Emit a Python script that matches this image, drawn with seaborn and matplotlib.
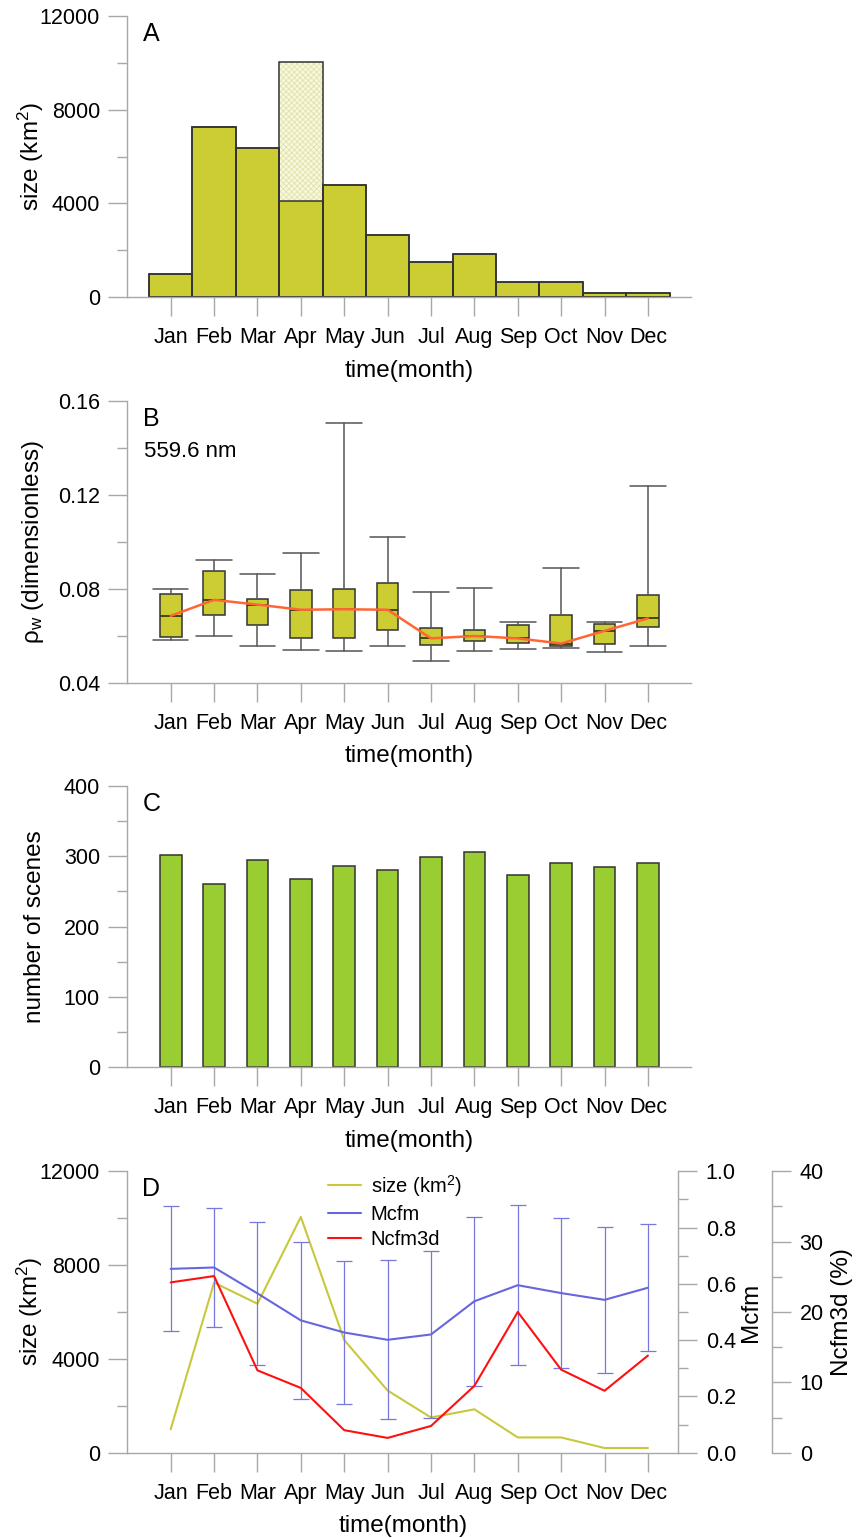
import numpy as np
import pandas as pd
import matplotlib
matplotlib.use("Agg")
import matplotlib.pyplot as plt
import seaborn as sns
from matplotlib.ticker import MultipleLocator

# ---------------- data ----------------
months = ["Jan", "Feb", "Mar", "Apr", "May", "Jun", "Jul", "Aug", "Sep", "Oct", "Nov", "Dec"]
month_num = [1, 2, 3, 4, 5, 6, 7, 8, 9, 10, 11, 12]

# Panel A: size (km2); Apr has an additional (hatched) part
size_km2 = [1000, 7250, 6350, 4100, 4800, 2650, 1500, 1850, 650, 650, 200, 200]
size_total_km2 = [1000, 7250, 6350, 10050, 4800, 2650, 1500, 1850, 650, 650, 200, 200]

# Panel B: rho_w at 559.6 nm, box statistics
rho_whislo = [0.0582, 0.0597, 0.0557, 0.0540, 0.0536, 0.0557, 0.0492, 0.0535, 0.0543, 0.0548, 0.0530, 0.0557]
rho_q1 = [0.0594, 0.0688, 0.0648, 0.0590, 0.0591, 0.0623, 0.0559, 0.0579, 0.0569, 0.0555, 0.0563, 0.0637]
rho_med = [0.0685, 0.0753, 0.0733, 0.0711, 0.0713, 0.0711, 0.0589, 0.0599, 0.0589, 0.0567, 0.0621, 0.0674]
rho_q3 = [0.0776, 0.0875, 0.0756, 0.0797, 0.0799, 0.0827, 0.0635, 0.0626, 0.0648, 0.0689, 0.0652, 0.0773]
rho_whishi = [0.0800, 0.0923, 0.0862, 0.0953, 0.1509, 0.1020, 0.0786, 0.0804, 0.0660, 0.0889, 0.0660, 0.1240]

# Panel C: number of scenes
n_scenes = [302, 260, 294, 267, 286, 280, 299, 306, 273, 291, 284, 291]

# Panel D
mcfm_mean = [0.653, 0.658, 0.566, 0.470, 0.427, 0.401, 0.420, 0.538, 0.595, 0.567, 0.543, 0.586]
mcfm_std = [0.222, 0.210, 0.253, 0.280, 0.253, 0.283, 0.298, 0.300, 0.284, 0.267, 0.260, 0.225]
ncfm3d_pct = [24.2, 25.1, 11.7, 9.2, 3.2, 2.1, 3.8, 9.5, 20.0, 11.8, 8.8, 13.8]

# ---------------- style ----------------
sns.set_style("white")
plt.rcParams["font.family"] = ["Liberation Sans", "DejaVu Sans"]
plt.rcParams["mathtext.fontset"] = "custom"
plt.rcParams["mathtext.rm"] = "Liberation Sans"
plt.rcParams["mathtext.it"] = "Liberation Sans:italic"
plt.rcParams["hatch.linewidth"] = 0.6
plt.rcParams["text.color"] = "black"
plt.rcParams["axes.labelcolor"] = "black"
plt.rcParams["xtick.color"] = "black"
plt.rcParams["ytick.color"] = "black"

GRAY = "#A8A8A8"
EDGE = "#333333"
TICK_FS = 15.5
LABEL_FS = 17.5
OLIVE = "#CCCC33"

W, H = 859, 1538
fig = plt.figure(figsize=(W / 100, H / 100), dpi=100)
fig.patch.set_facecolor("white")

left = 127.3 / W
wide = 564.0 / W
wide_d = 551.0 / W
ah = 281.5 / H


def add_ax(ybottom_px, width):
    return fig.add_axes([left, 1 - ybottom_px / H, width, ah])


def style(ax, xmax=13.0):
    ax.set_facecolor("none")
    for s in ["top", "right"]:
        ax.spines[s].set_visible(False)
    for s in ["left", "bottom"]:
        ax.spines[s].set_color(GRAY)
        ax.spines[s].set_linewidth(1.0)
    ax.set_xlim(0, xmax)
    ax.set_xticks(month_num)
    ax.set_xticklabels(months)
    ax.tick_params(axis="x", which="major", length=13.7, width=1.0, color=GRAY,
                   pad=8, labelsize=TICK_FS, labelcolor="black", bottom=True)
    ax.tick_params(axis="y", which="major", length=13.7, width=1.0, color=GRAY,
                   pad=6, labelsize=TICK_FS, labelcolor="black", left=True)
    ax.tick_params(axis="y", which="minor", length=7.2, width=1.0, color=GRAY, left=True)
    ax.set_xlabel("time(month)", fontsize=LABEL_FS)
    ax.xaxis.set_label_coords(0.5, -0.222)
    ax.grid(False)


def letter(ax, s):
    ax.text(0.027, 0.978, s, transform=ax.transAxes, fontsize=18, ha="left", va="top")


# ---------------- Panel A ----------------
axA = add_ax(297.3, wide)
dfA = pd.DataFrame({"month": month_num, "size": size_km2, "total": size_total_km2})
sns.barplot(data=dfA, x="month", y="total", native_scale=True, width=1.0, saturation=1,
            color="#F8F8DC", edgecolor="#E2E2AE", linewidth=0, hatch="xxxxxx",
            errorbar=None, ax=axA)
sns.barplot(data=dfA, x="month", y="size", native_scale=True, width=1.0, saturation=1,
            color=OLIVE, edgecolor=EDGE, linewidth=1.1, errorbar=None, ax=axA)
sns.barplot(data=dfA, x="month", y="total", native_scale=True, width=1.0, saturation=1,
            fill=False, color=EDGE, linewidth=1.1, errorbar=None, ax=axA)
style(axA)
axA.set_ylim(0, 12000)
axA.yaxis.set_major_locator(MultipleLocator(4000))
axA.yaxis.set_minor_locator(MultipleLocator(2000))
axA.set_ylabel("size (km$^2$)", fontsize=LABEL_FS)
axA.yaxis.set_label_coords(-0.145, 0.5)
letter(axA, "A")

# ---------------- Panel B ----------------
axB = add_ax(682.7, wide)
stats = []
for i in range(12):
    stats.append(dict(whislo=rho_whislo[i], q1=rho_q1[i], med=rho_med[i],
                      q3=rho_q3[i], whishi=rho_whishi[i], fliers=[], label=months[i]))
axB.bxp(stats, positions=month_num, widths=0.5, capwidths=0.82, patch_artist=True,
        showfliers=False, manage_ticks=False,
        boxprops=dict(facecolor=OLIVE, edgecolor=EDGE, linewidth=1.1),
        medianprops=dict(color="#3a3a10", linewidth=1.3),
        whiskerprops=dict(color="#555555", linewidth=1.1),
        capprops=dict(color="#555555", linewidth=1.1))
sns.lineplot(x=month_num, y=rho_med, color="#FF6633", linewidth=1.8, ax=axB, zorder=6)
style(axB)
axB.set_ylim(0.04, 0.16)
axB.yaxis.set_major_locator(MultipleLocator(0.04))
axB.yaxis.set_minor_locator(MultipleLocator(0.02))
axB.set_ylabel("ρ$_{\\mathrm{w}}$ (dimensionless)", fontsize=LABEL_FS)
axB.yaxis.set_label_coords(-0.145, 0.5)
letter(axB, "B")
axB.text(0.03, 0.86, "559.6 nm", transform=axB.transAxes, fontsize=16, ha="left", va="top")

# ---------------- Panel C ----------------
axC = add_ax(1067.3, wide)
dfC = pd.DataFrame({"month": month_num, "n": n_scenes})
sns.barplot(data=dfC, x="month", y="n", native_scale=True, width=0.5, saturation=1,
            color="#9ACD32", edgecolor=EDGE, linewidth=1.1, errorbar=None, ax=axC)
style(axC)
axC.set_ylim(0, 400)
axC.yaxis.set_major_locator(MultipleLocator(100))
axC.yaxis.set_minor_locator(MultipleLocator(50))
axC.set_ylabel("number of scenes", fontsize=LABEL_FS)
axC.yaxis.set_label_coords(-0.145, 0.5)
letter(axC, "C")

# ---------------- Panel D ----------------
axD = add_ax(1452.7, wide_d)
axD2 = axD.twinx()
axD3 = axD.twinx()

sns.lineplot(x=month_num, y=size_total_km2, color="#C8C83C", linewidth=1.5, ax=axD)
axD2.errorbar(month_num, mcfm_mean, yerr=mcfm_std, fmt="none", ecolor="#7777DD",
              elinewidth=0.9, capsize=6, capthick=0.9)
sns.lineplot(x=month_num, y=mcfm_mean, color="#6666DD", linewidth=1.5, ax=axD2)
sns.lineplot(x=month_num, y=ncfm3d_pct, color="#FF1010", linewidth=1.5, ax=axD3)

style(axD, xmax=12.7)
axD.set_ylim(0, 12000)
axD.yaxis.set_major_locator(MultipleLocator(4000))
axD.yaxis.set_minor_locator(MultipleLocator(2000))
axD.set_ylabel("size (km$^2$)", fontsize=LABEL_FS)
axD.yaxis.set_label_coords(-0.149, 0.5)

for a in (axD2, axD3):
    a.set_facecolor("none")
    a.grid(False)
    for s in ["top", "left", "bottom"]:
        a.spines[s].set_visible(False)
    a.spines["right"].set_color(GRAY)
    a.spines["right"].set_linewidth(1.0)
    a.tick_params(axis="y", which="major", length=13.7, width=1.0, color=GRAY, pad=6,
                  labelsize=TICK_FS, labelcolor="black", right=True, left=False)
    a.tick_params(axis="y", which="minor", length=7.2, width=1.0, color=GRAY,
                  right=True, left=False)
    a.set_xlim(0, 12.7)

axD2.set_ylim(0, 1.0)
axD2.yaxis.set_major_locator(MultipleLocator(0.2))
axD2.yaxis.set_minor_locator(MultipleLocator(0.1))
axD2.set_ylabel("Mcfm", fontsize=LABEL_FS)
axD2.yaxis.set_label_coords(1.112, 0.5)

axD3.spines["right"].set_position(("axes", 1 + 94.0 / 551.0))
axD3.set_ylim(0, 40)
axD3.yaxis.set_major_locator(MultipleLocator(10))
axD3.yaxis.set_minor_locator(MultipleLocator(5))
axD3.set_ylabel("Ncfm3d (%)", fontsize=LABEL_FS)
axD3.yaxis.set_label_coords(1.277, 0.5)

handles = [axD.lines[-1], axD2.lines[-1], axD3.lines[-1]]
axD3.legend(handles, ["size (km$^2$)", "Mcfm", "Ncfm3d"], loc="upper left",
            bbox_to_anchor=(0.365, 0.995), frameon=False, fontsize=14.5,
            handlelength=1.6, handletextpad=0.5, labelspacing=0.3,
            borderpad=0, borderaxespad=0)
letter(axD, "D")

fig.savefig("out.png", dpi=100)
